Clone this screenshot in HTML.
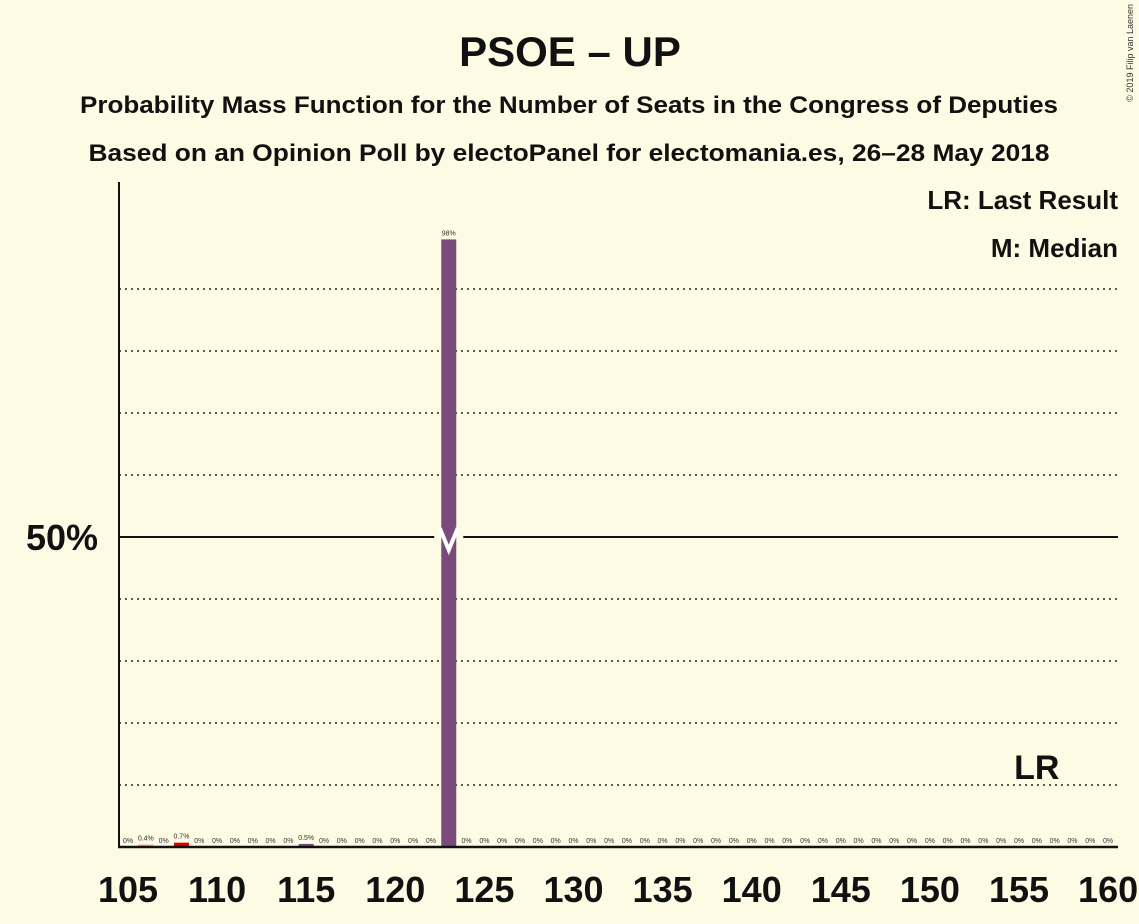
<!DOCTYPE html>
<html><head><meta charset="utf-8"><style>
body{margin:0;background:#fefbe4;}
svg{display:block;font-family:"Liberation Sans",sans-serif;}
</style></head><body>
<svg id="c" width="1139" height="924" viewBox="0 0 1139 924" xmlns="http://www.w3.org/2000/svg">
<rect width="1139" height="924" fill="#fefbe4"/>
<text x="570" y="66" text-anchor="middle" font-size="42" font-weight="bold" fill="#111">PSOE – UP</text>
<text x="569" y="113" text-anchor="middle" font-size="24" font-weight="bold" fill="#111" textLength="978" lengthAdjust="spacingAndGlyphs">Probability Mass Function for the Number of Seats in the Congress of Deputies</text>
<text x="569" y="161" text-anchor="middle" font-size="24" font-weight="bold" fill="#111" textLength="961" lengthAdjust="spacingAndGlyphs">Based on an Opinion Poll by electoPanel for electomania.es, 26–28 May 2018</text>
<text x="1133" y="4" font-size="9" fill="#333" transform="rotate(-90 1133 4)" text-anchor="end">© 2019 Filip van Laenen</text>
<text x="1118" y="209" text-anchor="end" font-size="26" font-weight="bold" fill="#111">LR: Last Result</text>
<text x="1118" y="257" text-anchor="end" font-size="26" font-weight="bold" fill="#111">M: Median</text>
<g id="grid"></g>
<g id="bars"></g>
<g id="axes"></g>
</svg>
<script>
const seats=[106,108,115,123];
const probs=[0.4,0.7,0.5,98];
const barColors=["#f4a6a6","#e00000","#7b4a7c","#7b4a7c"];
const valueLabels=["0.4%","0.7%","0.5%","98%"];
const xTicks=[105,110,115,120,125,130,135,140,145,150,155,160];
const gridPcts=[10,20,30,40,60,70,80,90];
const medianSeat=123, lastResult=156;
const x0=119,x1=1118,yb=847;
const X=s=>128+(s-105)*17.82;
const Y=p=>yb-p*6.2;
const NS="http://www.w3.org/2000/svg";
function mk(t,a,parent){const e=document.createElementNS(NS,t);for(const k in a)e.setAttribute(k,a[k]);document.getElementById(parent).appendChild(e);return e;}
gridPcts.forEach(p=>{
 const l=mk("line",{x1:x0,x2:x1,y1:Y(p),y2:Y(p),stroke:"#222","stroke-width":1.5,"stroke-dasharray":"2,4"},"grid");
 
 
});
const fl=mk("line",{x1:x0,x2:x1,y1:Y(50),y2:Y(50),stroke:"#111","stroke-width":2},"grid");


const fifty=mk("text",{x:98,y:Y(50)+13,"text-anchor":"end","font-size":36,"font-weight":"bold",fill:"#111"},"axes");
fifty.textContent="50%";


for(let s=105;s<=160;s++){
 const i=seats.indexOf(s);
 if(i<0){
  const t=mk("text",{x:X(s),y:yb-4,"text-anchor":"middle","font-size":7,fill:"#333"},"bars");
  t.textContent="0%";
  
  
 }
}
seats.forEach((s,i)=>{
 const w=15,h=yb-Y(probs[i]);
 if(s===medianSeat){
  const g=mk("rect",{x:X(s)-w/2-7,y:Y(50)-3,width:w+14,height:6,fill:"#fefbe4"},"bars");
  
  
 }
 const r=mk("rect",{x:X(s)-w/2,y:Y(probs[i]),width:w,height:Math.max(h,1.5),fill:barColors[i]},"bars");
 
 
 const t=mk("text",{x:X(s),y:Y(probs[i])-4,"text-anchor":"middle","font-size":7,fill:"#333"},"bars");
 t.textContent=valueLabels[i];
 
 
 if(s===medianSeat){
  const m=mk("polyline",{points:`${X(s)-9},${Y(50)-9} ${X(s)},${Y(50)+13} ${X(s)+9},${Y(50)-9}`,fill:"none",stroke:"#fff","stroke-width":4},"bars");
  
  
 }
});
const lr=mk("text",{x:X(lastResult),y:Y(10)-6,"text-anchor":"middle","font-size":34,"font-weight":"bold",fill:"#111"},"axes");
lr.textContent="LR";


const ya=mk("line",{x1:x0,x2:x0,y1:182,y2:yb+1,stroke:"#111","stroke-width":2},"axes");


const xa=mk("line",{x1:x0-1,x2:x1,y1:yb,y2:yb,stroke:"#111","stroke-width":2.5},"axes");


xTicks.forEach(v=>{
 const t=mk("text",{x:X(v),y:902,"text-anchor":"middle","font-size":36,"font-weight":"bold",fill:"#111"},"axes");
 t.textContent=v;
 
 
});
</script>
</body></html>
